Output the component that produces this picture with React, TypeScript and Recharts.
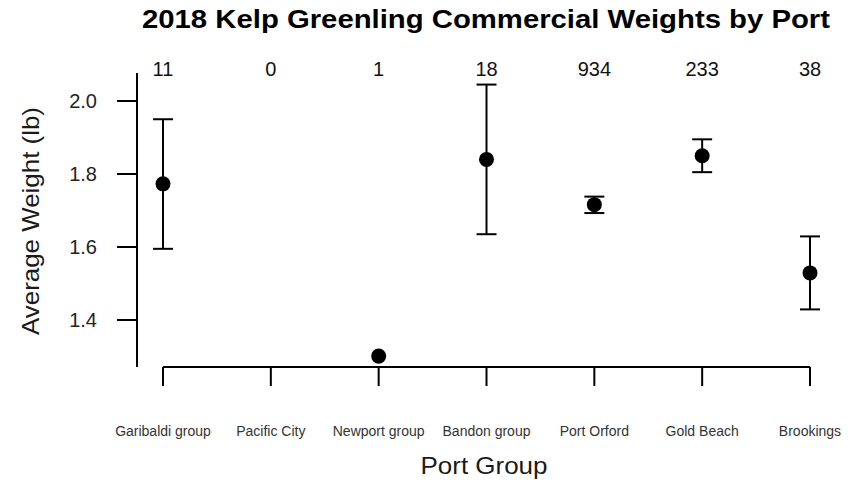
import React from 'react';
import { ComposedChart, Scatter, XAxis, YAxis, ZAxis, ErrorBar, ReferenceLine } from 'recharts';

const ports = ['Garibaldi group', 'Pacific City', 'Newport group', 'Bandon group', 'Port Orford', 'Gold Beach', 'Brookings'];
const counts = [11, 0, 1, 18, 934, 233, 38];
const means: (number | null)[] = [1.773, null, 1.301, 1.840, 1.716, 1.850, 1.529];
const lower: (number | null)[] = [1.595, null, null, 1.635, 1.693, 1.805, 1.429];
const upper: (number | null)[] = [1.950, null, null, 2.045, 1.738, 1.895, 1.629];
const yTicks = [1.4, 1.6, 1.8, 2.0];
const yDomain: [number, number] = [1.2712, 2.0767];

const positions = ports.map((_, i) => i + 1);

const pointData = ports
  .map((p, i) => ({ x: i + 1, y: means[i], port: p }))
  .filter((d) => d.y != null);

const errData = ports
  .map((p, i) => ({
    x: i + 1,
    y: means[i],
    port: p,
    err:
      lower[i] != null && upper[i] != null && means[i] != null
        ? [(means[i] as number) - (lower[i] as number), (upper[i] as number) - (means[i] as number)]
        : null,
  }))
  .filter((d) => d.err != null);

const countData = ports.map((p, i) => ({ x: i + 1, y: yTicks[0], n: counts[i], port: p }));

const FONT = '"Liberation Sans", Arial, Helvetica, sans-serif';

export default function App() {
  return (
    <div style={{ position: 'absolute', left: 0, top: 0, width: 853, height: 485, background: '#fff', fontFamily: FONT }}>
      <ComposedChart width={853} height={485} margin={{ top: 72, right: 43, bottom: 0, left: 0 }}>
        <XAxis
          xAxisId="b"
          type="number"
          dataKey="x"
          domain={[1, 7]}
          ticks={positions}
          padding={{ left: 26, right: 0 }}
          axisLine={false}
          tickLine={{ stroke: '#000', strokeWidth: 2 }}
          tickSize={19}
          tickMargin={40}
          height={118}
          interval={0}
          tickFormatter={(v: number) => ports[v - 1]}
          tick={{ fontSize: 14, fill: '#333', fontFamily: FONT }}
        />
        <XAxis
          xAxisId="t"
          orientation="top"
          type="number"
          dataKey="x"
          domain={[1, 7]}
          ticks={positions}
          padding={{ left: 26, right: 0 }}
          axisLine={false}
          tickLine={false}
          tickSize={0}
          tickMargin={-3}
          height={1}
          interval={0}
          tickFormatter={(v: number) => String(counts[v - 1])}
          tick={{ fontSize: 20, fill: '#111', fontFamily: FONT }}
        />
        <YAxis
          type="number"
          domain={yDomain}
          ticks={yTicks}
          width={137}
          axisLine={{ stroke: '#000', strokeWidth: 2 }}
          tickLine={{ stroke: '#000', strokeWidth: 2 }}
          tickSize={20}
          tickMargin={20}
          tickFormatter={(v: number) => v.toFixed(1)}
          tick={{ fontSize: 20, fill: '#222', fontFamily: FONT }}
        />
        <ZAxis range={[177, 177]} />
        <ReferenceLine
          xAxisId="b"
          segment={[{ x: 1, y: yDomain[0] }, { x: 7, y: yDomain[0] }]}
          stroke="#000"
          strokeWidth={2}
          ifOverflow="visible"
        />
        <Scatter xAxisId="t" data={countData} dataKey="y" shape={() => <g />} isAnimationActive={false} />
        <Scatter xAxisId="b" data={errData} dataKey="y" shape={() => <g />} isAnimationActive={false}>
          <ErrorBar dataKey="err" direction="y" width={10} stroke="#000" strokeWidth={2} isAnimationActive={false} />
        </Scatter>
        <Scatter xAxisId="b" data={pointData} dataKey="y" fill="#000" isAnimationActive={false} />
      </ComposedChart>
      <svg width={853} height={485} style={{ position: 'absolute', left: 0, top: 0, pointerEvents: 'none' }}>
        <text x={486} y={28} textAnchor="middle" fontSize={25} fontWeight="bold" fill="#000" fontFamily={FONT} textLength={688} lengthAdjust="spacingAndGlyphs">
          2018 Kelp Greenling Commercial Weights by Port
        </text>
        <text x={484} y={474} textAnchor="middle" fontSize={24} fill="#1a1a1a" fontFamily={FONT} textLength={127} lengthAdjust="spacingAndGlyphs">
          Port Group
        </text>
        <text x={0} y={0} transform="translate(39,221) rotate(-90)" textAnchor="middle" fontSize={24} fill="#1a1a1a" fontFamily={FONT} textLength={228} lengthAdjust="spacingAndGlyphs">
          Average Weight (lb)
        </text>
      </svg>
    </div>
  );
}
